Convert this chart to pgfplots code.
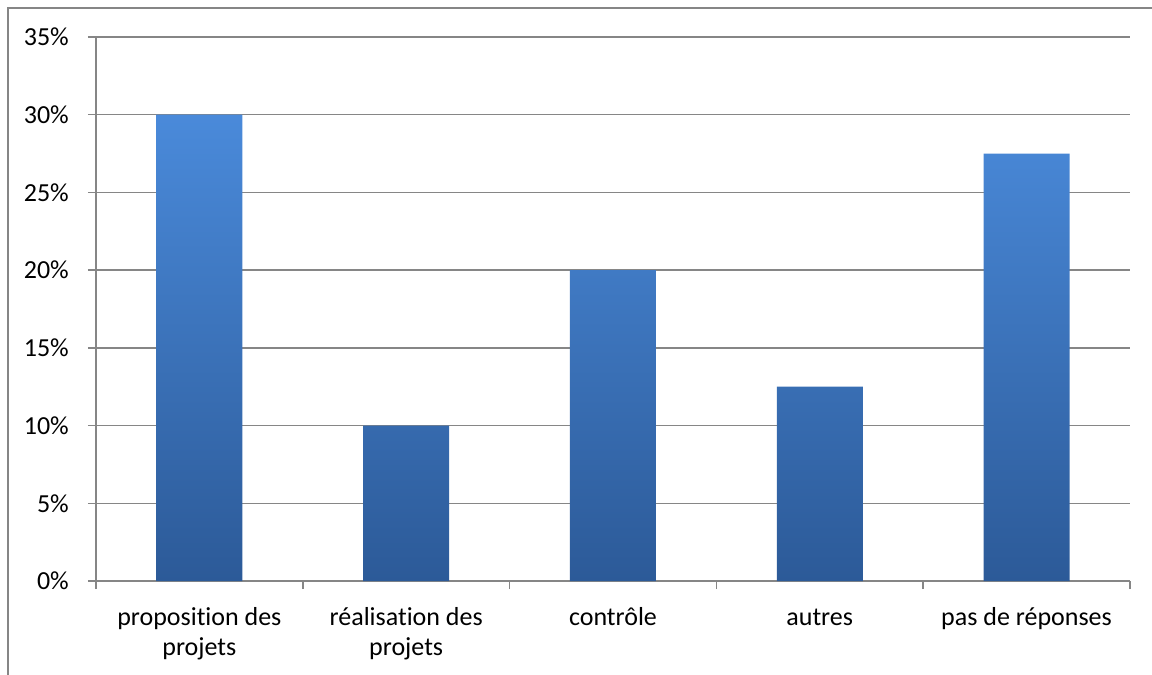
\documentclass[border=0pt]{standalone}
\usepackage{fontspec}
\setmainfont{Carlito}[Ligatures=NoCommon, Contextuals=NoAlternate]
\usepackage{pgfplots}
\pgfplotsset{compat=1.18}
\definecolor{gridgray}{HTML}{868686}
\definecolor{bartop}{HTML}{4A8ADA}
\definecolor{barbot}{HTML}{2C5A98}
\begin{document}
\begin{tikzpicture}
\useasboundingbox (-96pt,-94pt) rectangle (1056pt,581pt);
\draw[gridgray, line width=2pt] (-88pt,-200pt) -- (-88pt,573pt) -- (1200pt,573pt);
\begin{axis}[
  at={(0pt,0pt)}, anchor=south west,
  scale only axis, width=1034pt, height=544pt,
  xmin=-0.5, xmax=4.5, ymin=0, ymax=35,
  axis lines=left, axis line style={-, gridgray, line width=1.5pt},
  ymajorgrids, grid style={gridgray, line width=1.5pt},
  ytick={0,5,...,35},
  yticklabel={\pgfmathprintnumber{\tick}\%},
  xtick={0,1,2,3,4},
  xticklabels={{\strut proposit\kern0pt ion des\\projets},{\strut réalisat\kern0pt ion des\\projets},{\strut contrôle},{\strut autres},{\strut pas de réponses}},
  minor xtick={-0.5,0.5,1.5,2.5,3.5,4.5},
  major x tick style={draw=none},
  tick style={gridgray, line width=1.5pt},
  tick align=outside,
  major tick length=8pt, minor tick length=8pt,
  /pgf/number format/assume math mode=true,
  tick label style={font=\fontsize{26}{30}\selectfont, text=black},
  xticklabel style={align=center, anchor=north, inner sep=0pt, yshift=-15pt},
  yticklabel style={anchor=east, inner sep=0pt, xshift=-19pt},
  clip=false,
]
\addplot[ybar, bar width=86pt, draw=none, top color=bartop, bottom color=barbot]
  coordinates {(0,30) (1,10) (2,20) (3,12.5) (4,27.5)};
\end{axis}
\end{tikzpicture}
\end{document}
